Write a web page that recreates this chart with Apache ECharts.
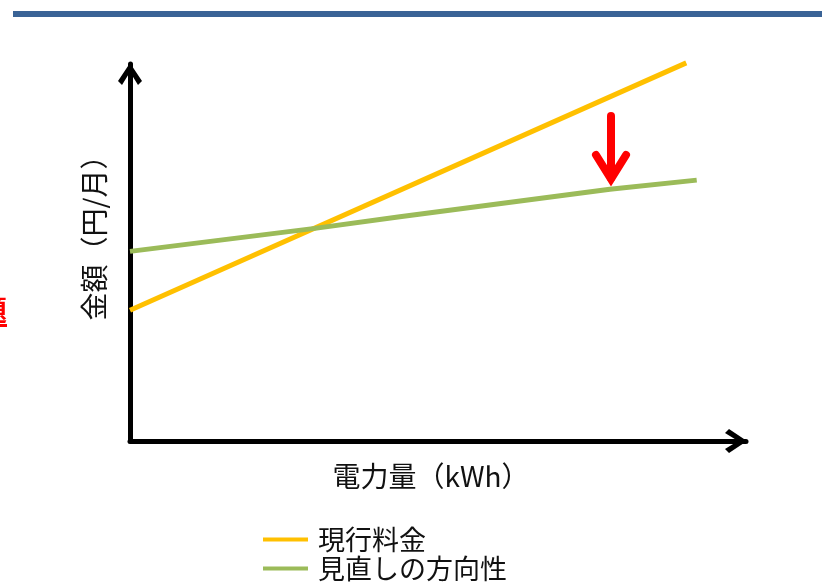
<!DOCTYPE html>
<html>
<head>
<meta charset="utf-8">
<script src="https://cdn.jsdelivr.net/npm/echarts@6/dist/echarts.min.js"></script>
<style>
html,body{margin:0;padding:0;background:#fff;}
#chart{width:822px;height:583px;}
</style>
</head>
<body>
<div id="chart"></div>
<script>
// 系列名
var seriesNames = ['現行料金', '見直しの方向性'];
// 現行料金 [電力量, 金額]
var currentX = [0, 90.3];
var currentY = [34.7, 100.3];
// 見直しの方向性
var revisedX = [0, 30.0, 43.8, 77.9, 92.0];
var revisedY = [50.3, 56.4, 59.5, 66.8, 69.2];

var FONT = '"Noto Sans CJK JP", "Noto Sans", sans-serif';

function pairs(xs, ys){
	var out = [];
	for(var i=0;i<xs.length;i++){
		out.push([xs[i], ys[i]]);
	}
	return out;
}

// 軸の矢印（上向きのV字）
var chevron = 'path://M12,0 L24,18 L20,22 L12,9 L4,22 L0,18 Z';

var myChart = echarts.init(document.getElementById('chart'));
var option = {
	animation:false,
	grid:{left:130, right:76, top:64, bottom:142},
	xAxis:{
		type:'value', min:0, max:100,
		axisLine:{show:true, lineStyle:{color:'#000', width:5},
			symbol:['none', chevron], symbolSize:[24,23], symbolOffset:[0,-10]},
		axisTick:{show:false}, axisLabel:{show:false}, splitLine:{show:false}
	},
	yAxis:{
		type:'value', min:0, max:100,
		axisLine:{show:true, onZero:false, lineStyle:{color:'#000', width:5},
			symbol:['none', chevron], symbolSize:[24,23], symbolOffset:[0,-10]},
		axisTick:{show:false}, axisLabel:{show:false}, splitLine:{show:false}
	},
	legend:{
		orient:'vertical', left:263, top:526, itemGap:2, padding:0,
		icon:'rect', itemWidth:45, itemHeight:4,
		textStyle:{fontFamily:FONT, fontSize:27, lineHeight:27, color:'#111', padding:[0,0,0,5]},
		data:seriesNames
	},
	series:[
		{
			name:seriesNames[0], type:'line', data:pairs(currentX, currentY),
			showSymbol:false, clip:false, color:'#FFC000',
			lineStyle:{width:5, color:'#FFC000'}
		},
		{
			name:seriesNames[1], type:'line', data:pairs(revisedX, revisedY),
			showSymbol:false, clip:false, color:'#9BBB59',
			lineStyle:{width:5, color:'#9BBB59'}
		}
	],
	graphic:[
		// 上部の帯
		{type:'rect', shape:{x:13, y:11, width:809, height:6}, style:{fill:'#3A6396'}},
		// 左端の赤文字（切れている）
		{type:'text', x:7, y:310, style:{text:'題', fill:'#FF0000', font:'bold 28px '+FONT, textAlign:'right', textVerticalAlign:'middle'}},
		{type:'rect', shape:{x:-40, y:324, width:47, height:3}, style:{fill:'#FF0000'}},
		// 軸タイトル
		{type:'text', x:431, y:476, style:{text:'電力量（kWh）', fill:'#111', font:'28px '+FONT, textAlign:'center', textVerticalAlign:'middle'}},
		{type:'text', x:94, y:231, rotation:Math.PI/2, style:{text:'金額（円/月）', fill:'#111', font:'28px '+FONT, textAlign:'center', textVerticalAlign:'middle'}},
		// 赤い下向き矢印
		{type:'polyline', shape:{points:[[611,116],[611,178]]}, style:{stroke:'#FF0000', lineWidth:8, lineCap:'round', fill:null}},
		{type:'polyline', shape:{points:[[596,155],[611,179],[626,155]]}, style:{stroke:'#FF0000', lineWidth:8, lineCap:'round', lineJoin:'miter', fill:null}}
	]
};
myChart.setOption(option);
</script>
</body>
</html>
